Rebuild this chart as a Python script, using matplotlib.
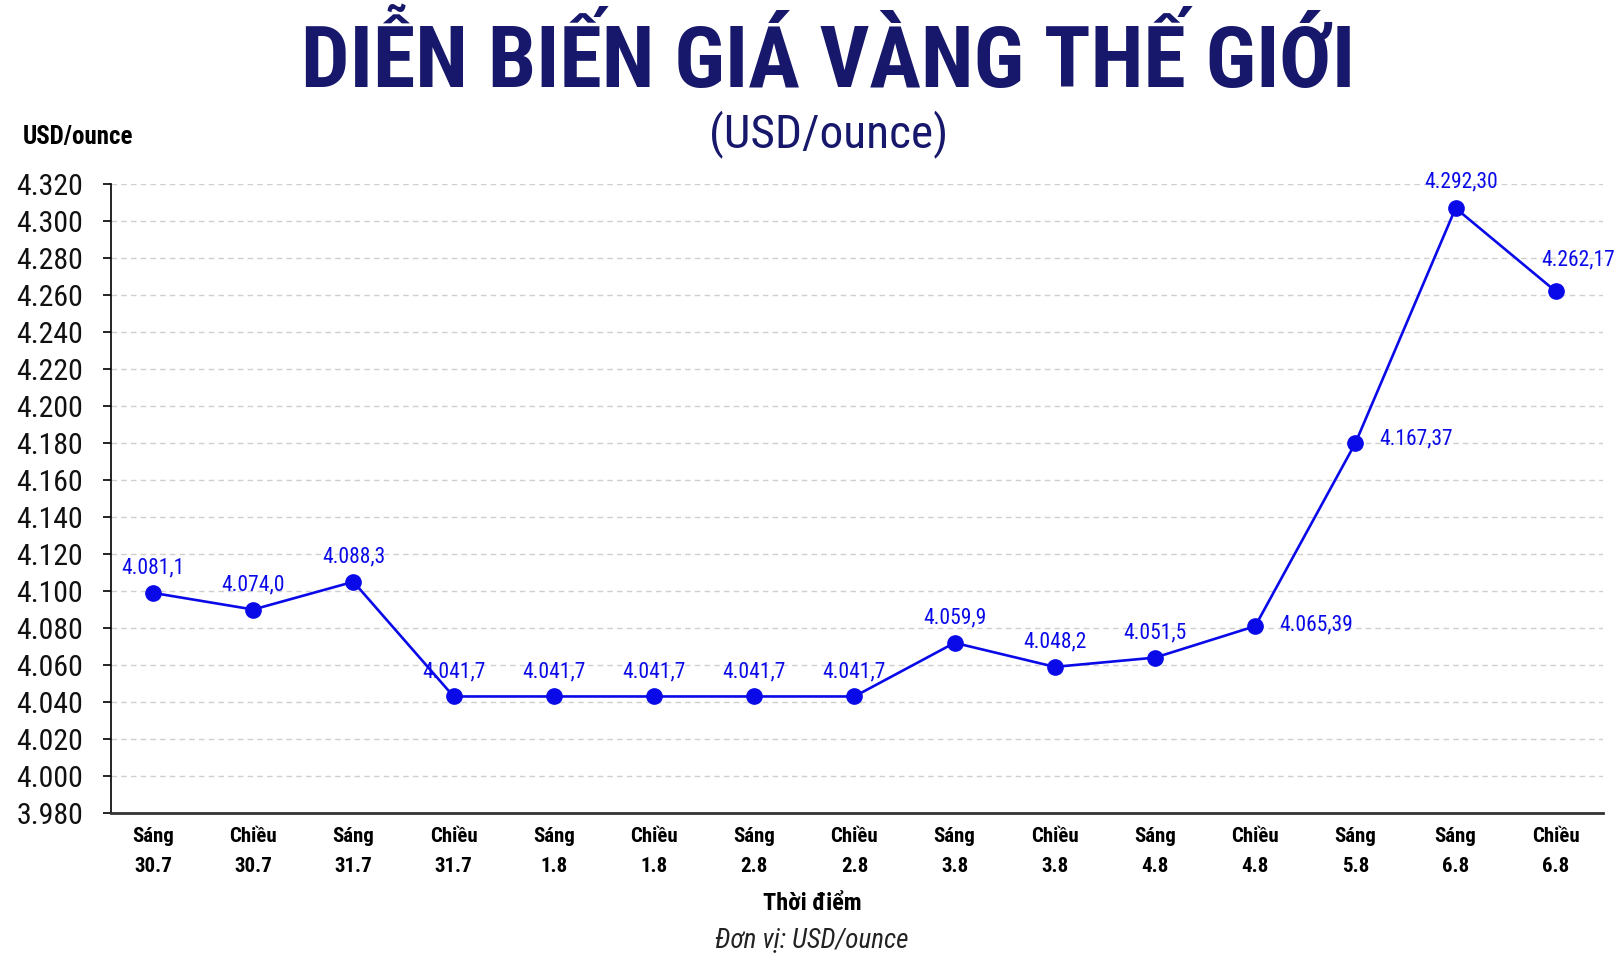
import matplotlib
matplotlib.use("Agg")
import matplotlib.pyplot as plt
from matplotlib import font_manager

# data
times = ["Sáng\n30.7", "Chiều\n30.7", "Sáng\n31.7", "Chiều\n31.7", "Sáng\n1.8",
         "Chiều\n1.8", "Sáng\n2.8", "Chiều\n2.8", "Sáng\n3.8", "Chiều\n3.8",
         "Sáng\n4.8", "Chiều\n4.8", "Sáng\n5.8", "Sáng\n6.8", "Chiều\n6.8"]
prices = [4099, 4090, 4105, 4043, 4043, 4043, 4043, 4043, 4072, 4059,
          4064, 4081, 4180, 4307, 4262]
price_labels = ["4.081,1", "4.074,0", "4.088,3", "4.041,7", "4.041,7", "4.041,7",
                "4.041,7", "4.041,7", "4.059,9", "4.048,2", "4.051,5", "4.065,39",
                "4.167,37", "4.292,30", "4.262,17"]
yticks = list(range(3980, 4321, 20))

# label placement (offset in points from each point)
label_offsets = [(0, 18)] * 11 + [(44, 1), (44, 3), (4, 19), (16, 23)]

# pick a condensed face if one is installed
names = {f.name for f in font_manager.fontManager.ttflist}
cands = [n for n in ["Roboto Condensed", "Liberation Sans Narrow", "Roboto"] if n in names]
fam = cands[:1] + ["Roboto", "DejaVu Sans"]
plt.rcParams["font.family"] = fam

navy = "#17186b"
blue = "#0a0ae8"

fig = plt.figure(figsize=(16.24, 9.69), dpi=100)
ax = fig.add_axes([0.0683, 0.161, 0.9187, 0.649])

x = list(range(len(prices)))
ax.plot(x, prices, color=blue, lw=1.9, marker="o", ms=11, zorder=3)
for xi, yi, lab, off in zip(x, prices, price_labels, label_offsets):
    ax.annotate(lab, (xi, yi), xytext=off, textcoords="offset points",
                ha="center", va="center", color=blue, fontsize=15.5)

ax.set_ylim(3980, 4320)
ax.set_xlim(-0.42, 14.47)
ax.set_yticks(yticks)
ax.set_yticklabels([f"{v:,}".replace(",", ".") for v in yticks], fontsize=21.5,
                   color="#111111")
ax.set_xticks(x)
ax.set_xticklabels(times, fontsize=15, fontweight="bold", linespacing=1.75)
ax.tick_params(axis="y", length=6, width=1.2, pad=14)
ax.tick_params(axis="x", length=0, pad=10)
ax.grid(axis="y", color="#cfcfcf", ls=(0, (4, 3)), lw=1)
ax.set_axisbelow(True)
for s in ["top", "right"]:
    ax.spines[s].set_visible(False)
ax.spines["left"].set_linewidth(1.2)
ax.spines["bottom"].set_linewidth(2)
ax.spines["bottom"].set_color("#333333")

fig.text(0.51, 0.936, "DIỄN BIẾN GIÁ VÀNG THẾ GIỚI", ha="center", va="center",
         fontsize=62, fontweight="black", color=navy)
fig.text(0.51, 0.862, "(USD/ounce)", ha="center", va="center", fontsize=34, color=navy)
fig.text(0.014, 0.859, "USD/ounce", ha="left", va="center", fontsize=18, fontweight="bold")
fig.text(0.5, 0.068, "Thời điểm", ha="center", va="center", fontsize=17.5, fontweight="bold")
fig.text(0.5, 0.03, "Đơn vị: USD/ounce", ha="center", va="center", fontsize=19.5,
         style="italic", color="#222222")

fig.savefig("out.png", dpi=100, facecolor="white")
